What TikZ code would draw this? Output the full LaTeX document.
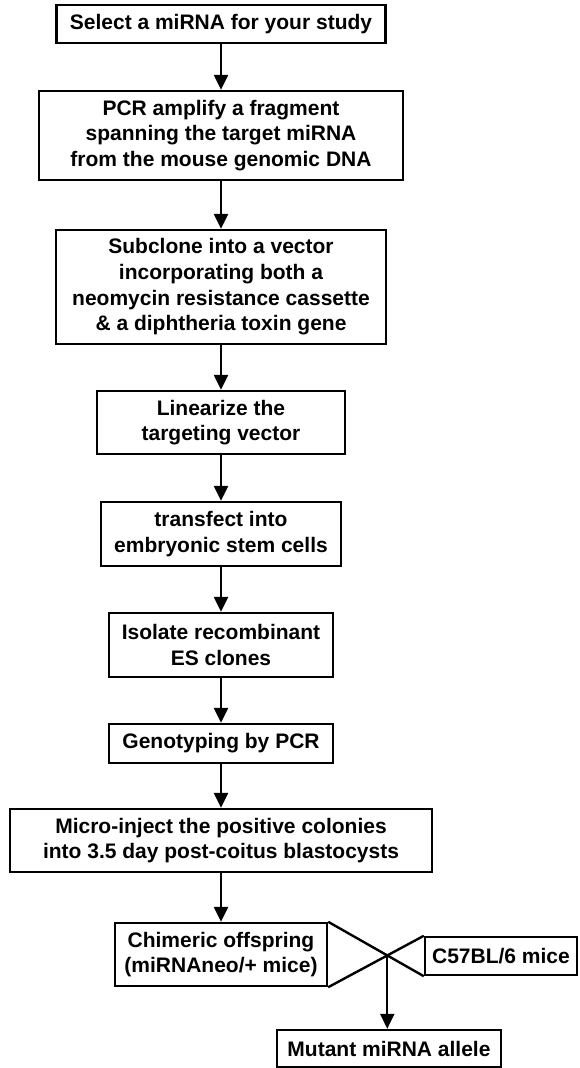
\documentclass[tikz,border=0pt]{standalone}
\usepackage{fontspec}
\setmainfont{Liberation Sans}
\usetikzlibrary{arrows.meta}

\begin{document}
\begin{tikzpicture}[
      x=1pt, y=-1pt,
      every node/.style={draw, line width=2.4pt, inner sep=0pt, align=center,
        font=\fontsize{21}{25.7}\selectfont\bfseries},
      flow/.style={line width=2.4pt, -{Triangle[length=15pt,width=14pt]}},
      cross/.style={line width=2.4pt}
    ]
    \useasboundingbox (0,0) rectangle (579,1068);
    % passos principais
    \node[minimum width=329pt, minimum height=38pt] (select) at (221,24) {Select a miRNA for your study};
    \node[minimum width=364pt, minimum height=89pt] (pcr) at (221,135.5)
      {PCR amplify a fragment\\spanning the target miRNA\\from the mouse genomic DNA};
    \node[minimum width=330pt, minimum height=114pt] (subclone) at (221,287)
      {Subclone into a vector\\incorporating both a\\neomycin resistance cassette\\\& a diphtheria toxin gene};
    \node[minimum width=248pt, minimum height=63pt] (linear) at (221,422.5)
      {Linearize the\\targeting vector};
    \node[minimum width=240pt, minimum height=64pt] (transfect) at (221,534)
      {transfect into\\embryonic stem cells};
    \node[minimum width=224pt, minimum height=64pt] (isolate) at (221,645)
      {Isolate recombinant\\ES clones};
    \node[minimum width=224pt, minimum height=39pt] (geno) at (221,743.5) {Genotyping by PCR};
    \node[minimum width=422pt, minimum height=63pt] (inject) at (221,840.5)
      {Micro-inject the positive colonies\\into 3.5 day post-coitus blastocysts};
    % cruzamento
    \node[minimum width=212pt, minimum height=63pt] (chim) at (221,954.5)
      {Chimeric offspring\\(miRNAneo/+ mice)};
    \node[minimum width=152pt, minimum height=38pt] (c57) at (501,956) {C57BL/6 mice};
    \node[minimum width=224pt, minimum height=37pt] (mutant) at (389,1048.5) {Mutant miRNA allele};

    \draw[flow] (select) -- (pcr);
    \draw[flow] (pcr) -- (subclone);
    \draw[flow] (subclone) -- (linear);
    \draw[flow] (linear) -- (transfect);
    \draw[flow] (transfect) -- (isolate);
    \draw[flow] (isolate) -- (geno);
    \draw[flow] (geno) -- (inject);
    \draw[flow] (inject) -- (chim);

    \draw[cross] (chim.north east) -- (c57.south west);
    \draw[cross] (chim.south east) -- (c57.north west);
    \coordinate (mate) at (intersection of chim.north east--c57.south west and chim.south east--c57.north west);
    \draw[flow] (mate) -- (mate |- mutant.north);
  \end{tikzpicture}
\end{document}
